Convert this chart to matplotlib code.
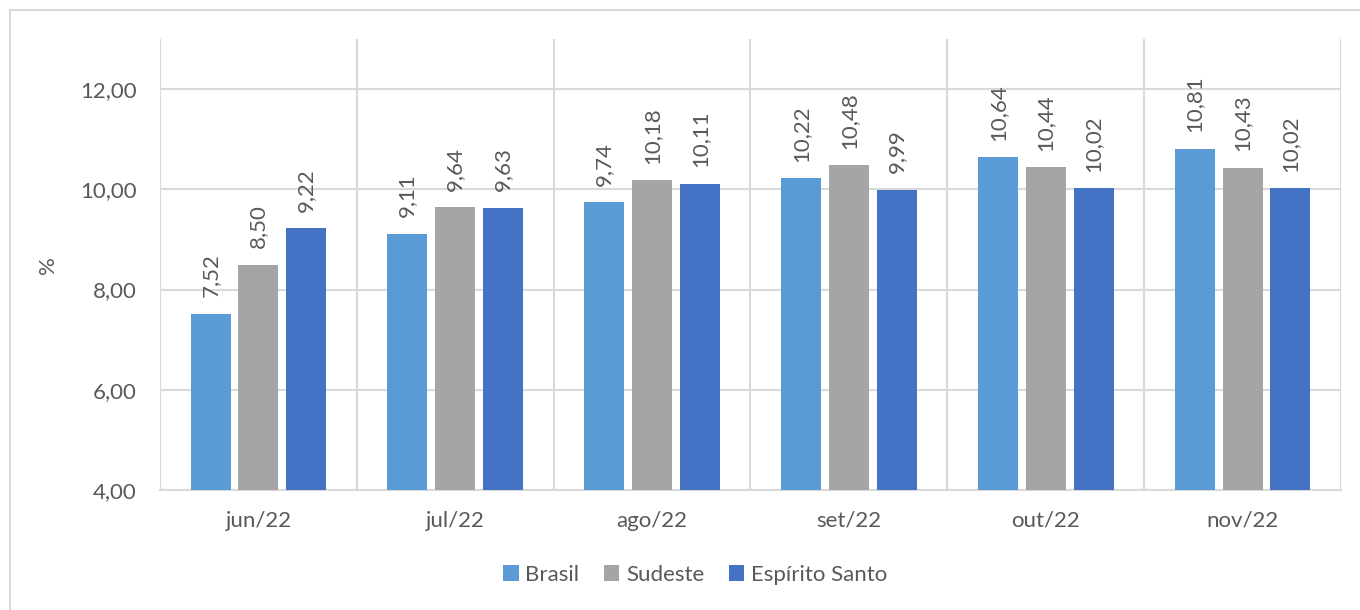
import matplotlib
matplotlib.use("Agg")

import matplotlib.pyplot as plt
import numpy as np
from matplotlib.patches import Rectangle

# data
months = ["jun/22", "jul/22", "ago/22", "set/22", "out/22", "nov/22"]
brasil = [7.52, 9.11, 9.74, 10.22, 10.64, 10.81]
sudeste = [8.50, 9.64, 10.18, 10.48, 10.44, 10.43]
espirito_santo = [9.22, 9.63, 10.11, 9.99, 10.02, 10.02]

series_names = ["Brasil", "Sudeste", "Espírito Santo"]
colors = ["#5B9BD5", "#A5A5A5", "#4472C4"]

plt.rcParams["font.family"] = ["Lato", "DejaVu Sans"]
text_color = "#595959"
grid_color = "#D9D9D9"
fs = 16

fig = plt.figure(figsize=(13.6, 6.1), dpi=100)
ax = fig.add_axes([160 / 1360, 1 - 490 / 610, (1341 - 160) / 1360, (490 - 39) / 610])

# frame round the chart
fig.patches.append(Rectangle((10 / 1360, -0.1), 1.2, 1.1 - 10 / 610,
                             transform=fig.transFigure, fill=False,
                             edgecolor=grid_color, linewidth=1.5))

x = np.arange(len(months))
width = 0.203
offset = 0.243

for i, (name, vals) in enumerate(zip(series_names, [brasil, sudeste, espirito_santo])):
    bars = ax.bar(x + (i - 1) * offset, vals, width, color=colors[i], label=name, zorder=3)
    labels = [f"{v:.2f}".replace(".", ",") for v in vals]
    ax.bar_label(bars, labels=labels, rotation=90, padding=12,
                 fontsize=fs, color=text_color)

ax.set_xlim(-0.5, len(months) - 0.5)
ax.set_ylim(4, 13)
ax.set_yticks([4, 6, 8, 10, 12])
ax.set_yticklabels([f"{t:.2f}".replace(".", ",") for t in [4, 6, 8, 10, 12]])
ax.set_xticks(x)
ax.set_xticklabels(months)

# vertical lines between months
ax.set_xticks(np.arange(len(months) + 1) - 0.5, minor=True)
ax.grid(axis="x", which="minor", color=grid_color, linewidth=1.5, zorder=0)
ax.grid(axis="y", which="major", color=grid_color, linewidth=1.5, zorder=0)
ax.grid(axis="x", which="major", visible=False)

ax.tick_params(axis="both", which="both", length=0, labelsize=fs, colors=text_color)
ax.tick_params(axis="x", pad=15)
ax.tick_params(axis="y", pad=17)

for side in ["top", "right", "left"]:
    ax.spines[side].set_visible(False)
ax.spines["bottom"].set_color(grid_color)
ax.spines["bottom"].set_linewidth(1.5)

fig.text(48 / 1360, 1 - 265 / 610, "%", rotation=90, ha="center", va="center",
         fontsize=fs, color=text_color)

leg = fig.legend(loc="center", bbox_to_anchor=(695 / 1360, 1 - 575 / 610), ncol=3,
                 frameon=False, fontsize=fs, handlelength=0.7, handleheight=0.7,
                 handletextpad=0.3, columnspacing=1.1)
for t in leg.get_texts():
    t.set_color(text_color)

fig.savefig("out.png", dpi=100)
